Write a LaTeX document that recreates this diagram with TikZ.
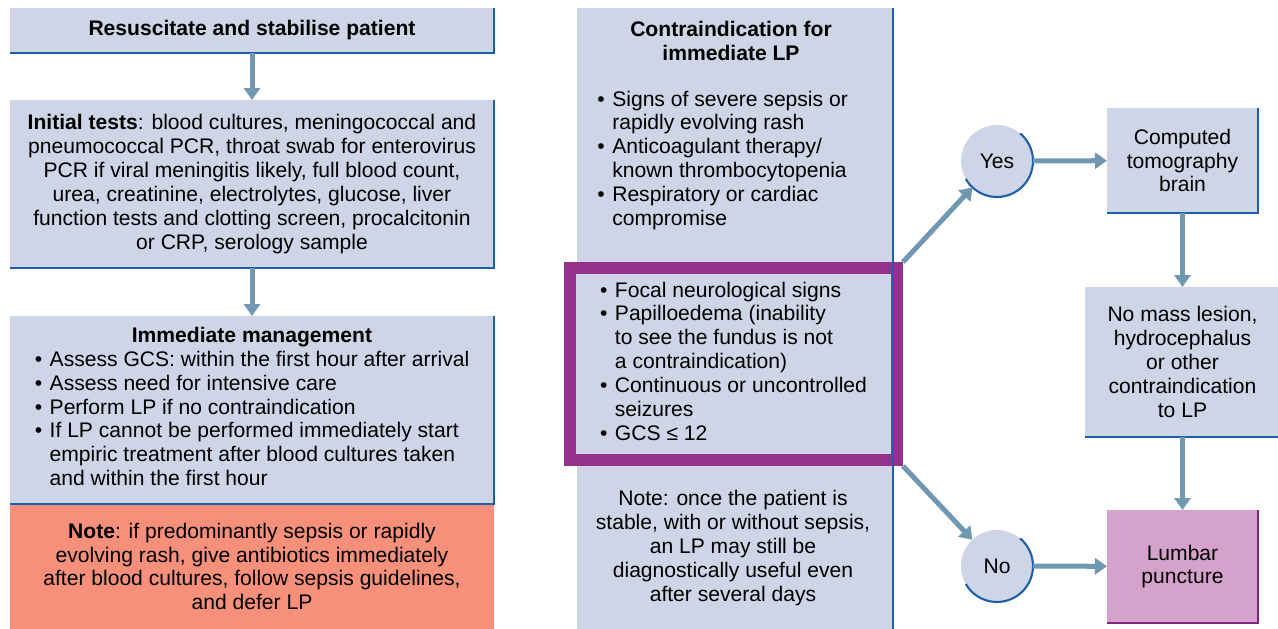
\documentclass[tikz,border=0pt]{standalone}
\usepackage{fontspec}
\setmainfont{Liberation Sans}
\usetikzlibrary{arrows.meta, positioning, calc}

\definecolor{boxfill}{RGB}{205,213,230}
\definecolor{edgeblue}{RGB}{30,95,170}
\definecolor{arrowblue}{RGB}{112,152,178}
\definecolor{notered}{RGB}{246,144,122}
\definecolor{lpfill}{RGB}{212,162,202}
\definecolor{alertpurple}{RGB}{148,48,142}

\newcommand{\bul}{\makebox[8.5pt][l]{\textbullet}}
\newcommand{\ind}{\hspace*{8.5pt}}
\newcommand{\blist}[1]{\begin{tabular}[t]{@{}l@{}}#1\end{tabular}}

\begin{document}
\begin{tikzpicture}[
    font=\fontsize{12}{13.6}\selectfont,
    box/.style={fill=boxfill, align=center, inner sep=0pt, outer sep=0pt},
    notebox/.style={fill=notered, align=center, inner sep=0pt, outer sep=0pt},
    lpbox/.style={fill=lpfill, align=center, inner sep=0pt, outer sep=0pt},
    alertbox/.style={draw=alertpurple, line width=0.24cm, fill=boxfill, inner sep=0pt},
    answer/.style={circle, fill=boxfill, minimum size=1.44cm, inner sep=0pt, outer sep=0pt},
    rim/.style={draw=edgeblue, line width=1.2pt},
    arrow/.style={-{Triangle[length=0.24cm, width=0.32cm]}, line width=0.1cm, arrowblue}
]
\useasboundingbox (0,0) rectangle (25.56,-12.58);

% left column
\node[box, minimum width=9.68cm, minimum height=0.9cm] (resus) at (5.04,-0.61)
    {\textbf{Resuscitate and stabilise patient}};
\node[box, minimum width=9.68cm, minimum height=3.36cm] (tests) at (5.04,-3.68)
    {\textbf{Initial tests}: blood cultures, meningococcal and\\
     pneumococcal PCR, throat swab for enterovirus\\
     PCR if viral meningitis likely, full blood count,\\
     urea, creatinine, electrolytes, glucose, liver\\
     function tests and clotting screen, procalcitonin\\
     or CRP, serology sample};
\node[notebox, minimum width=9.68cm, minimum height=2.5cm] (note) at (5.04,-11.33)
    {\textbf{Note}: if predominantly sepsis or rapidly\\
     evolving rash, give antibiotics immediately\\
     after blood cultures, follow sepsis guidelines,\\
     and defer LP};
\node[box, minimum width=9.68cm, minimum height=3.76cm] (manage) at (5.04,-8.2)
    {\textbf{Immediate management}\\
     \blist{\bul Assess GCS: within the first hour after arrival\\
            \bul Assess need for intensive care\\
            \bul Perform LP if no contraindication\\
            \bul If LP cannot be performed immediately start\\
            \ind empiric treatment after blood cultures taken\\
            \ind and within the first hour}};

% middle column
\node[box, minimum width=6.32cm, minimum height=12.42cm] (contra) at (14.7,-6.37) {};
\node[align=center, inner sep=0pt] (ctitle) at (14.62,-0.82)
    {\textbf{Contraindication for}\\ \textbf{immediate LP}};
\node[anchor=west, inner sep=0pt] (clist) at (11.94,-3.22)
    {\blist{\bul Signs of severe sepsis or\\
            \ind rapidly evolving rash\\
            \bul Anticoagulant therapy/\\
            \ind known thrombocytopenia\\
            \bul Respiratory or cardiac\\
            \ind compromise}};
\node[alertbox, minimum width=6.54cm, minimum height=3.84cm] (signs) at (14.67,-7.28)
    {\blist{\bul Focal neurological signs\\
            \bul Papilloedema (inability\\
            \ind to see the fundus is not\\
            \ind a contraindication)\\
            \bul Continuous or uncontrolled\\
            \ind seizures\\
            \bul GCS ≤ 12}};
\node[align=center, inner sep=0pt] (cnote) at (14.66,-10.96)
    {Note: once the patient is\\ stable, with or without sepsis,\\ an LP may still be\\
     diagnostically useful even\\ after several days};

% right column
\node[answer] (yes) at (19.94,-3.22) {Yes};
\node[answer] (no) at (19.94,-11.32) {No};
\node[box, minimum width=3.02cm, minimum height=2.1cm] (ct) at (23.65,-3.21)
    {Computed\\ tomography\\ brain};
\node[box, minimum width=3.9cm, minimum height=3.0cm] (nomass) at (23.65,-7.24)
    {No mass lesion,\\ hydrocephalus\\ or other\\ contraindication\\ to LP};
\node[lpbox, minimum width=3.02cm, minimum height=2.26cm] (lp) at (23.65,-11.33)
    {Lumbar\\ puncture};

% shaded edges
\foreach \n in {resus, tests, manage, ct, nomass}
    \draw[rim] (\n.north east) -- (\n.south east) -- (\n.south west);
\draw[rim] (contra.north east) -- (contra.south east);
\draw[rim, draw=alertpurple!85!black] (lp.north east) -- (lp.south east) -- (lp.south west);
\draw[rim] (yes.50) arc[start angle=50, end angle=-150, radius=0.72cm];
\draw[rim] (no.50) arc[start angle=50, end angle=-150, radius=0.72cm];

% arrows
\draw[arrow] (resus) -- (tests);
\draw[arrow] (tests) -- (manage);
\draw[arrow] (signs.north east) -- (yes);
\draw[arrow] (signs.south east) -- (no);
\draw[arrow] (yes) -- (ct);
\draw[arrow] (no) -- (lp);
\draw[arrow] (ct) -- (nomass);
\draw[arrow] (nomass) -- (lp);

\end{tikzpicture}
\end{document}
